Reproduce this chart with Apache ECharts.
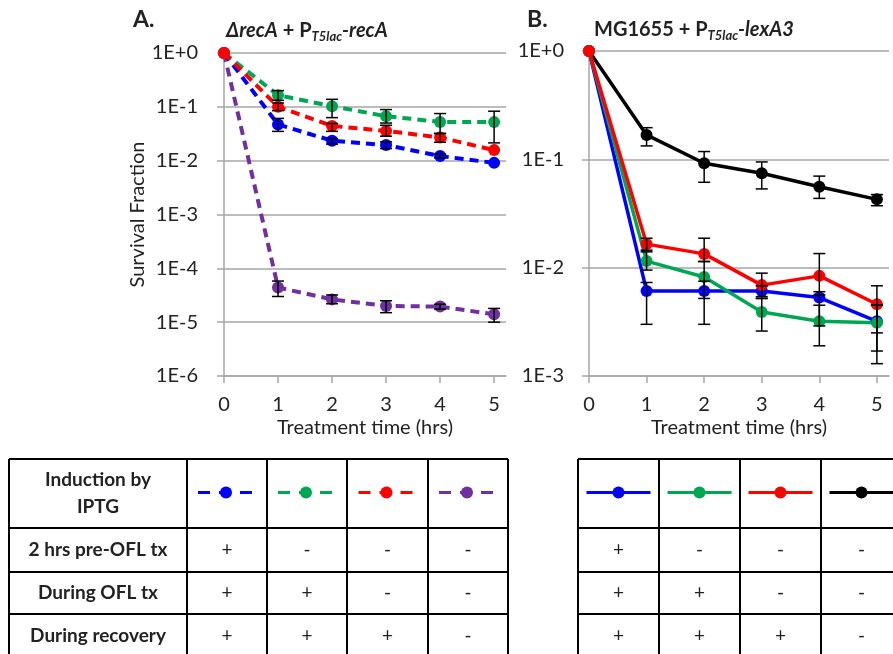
<!DOCTYPE html>
<html>
<head>
<meta charset="utf-8">
<script src="https://cdn.jsdelivr.net/npm/echarts@6/dist/echarts.min.js"></script>
<style>
html, body { margin: 0; padding: 0; background: #fff; }
#main { width: 893px; height: 654px; }
</style>
</head>
<body>
<div id="main"></div>
<script>
// time points (hrs)
var hours = [0, 1, 2, 3, 4, 5];

// panel A: ΔrecA + PT5lac-recA (dashed lines)
var aBlue     = [1, 0.047, 0.0235, 0.0195, 0.0122, 0.0091];
var aBlueLo   = [null, 0.035, 0.0203, 0.0168, 0.0112, null];
var aBlueHi   = [null, 0.061, 0.0258, 0.0223, 0.0133, null];
var aGreen    = [1, 0.165, 0.103, 0.067, 0.0525, 0.052];
var aGreenLo  = [null, 0.132, 0.063, 0.050, 0.032, 0.0214];
var aGreenHi  = [null, 0.200, 0.138, 0.089, 0.075, 0.083];
var aRed      = [1, 0.100, 0.0442, 0.0357, 0.027, 0.0157];
var aRedLo    = [null, 0.085, 0.035, 0.0285, 0.022, null];
var aRedHi    = [null, 0.118, 0.049, 0.0455, 0.032, null];
var aPurple   = [1, 4.4e-5, 2.65e-5, 2.0e-5, 1.95e-5, 1.4e-5];
var aPurpleLo = [null, 3.0e-5, 2.2e-5, 1.5e-5, 1.75e-5, 1.0e-5];
var aPurpleHi = [null, 5.8e-5, 3.2e-5, 2.5e-5, 2.15e-5, 1.8e-5];

// panel B: MG1655 + PT5lac-lexA3 (solid lines)
var bBlue     = [1, 0.0061, 0.0061, 0.0061, 0.0053, 0.0032];
var bBlueLo   = [null, 0.0030, 0.0030, 0.0054, 0.0029, 0.0017];
var bBlueHi   = [null, 0.0073, 0.0075, 0.0068, 0.0060, 0.0045];
var bGreen    = [1, 0.0115, 0.0082, 0.0039, 0.0032, 0.0031];
var bGreenLo  = [null, 0.0095, 0.0052, 0.0026, 0.0019, 0.0013];
var bGreenHi  = [null, 0.0140, 0.0114, 0.0052, 0.0045, 0.0045];
var bRed      = [1, 0.0165, 0.0134, 0.0069, 0.0084, 0.0046];
var bRedLo    = [null, 0.0145, 0.0114, 0.0052, 0.0056, 0.0025];
var bRedHi    = [null, 0.0187, 0.0187, 0.0089, 0.0135, 0.0068];
var bBlack    = [1, 0.168, 0.092, 0.0743, 0.0558, 0.0427];
var bBlackLo  = [null, 0.133, 0.0614, 0.0533, 0.0436, 0.0373];
var bBlackHi  = [null, 0.196, 0.118, 0.0946, 0.070, 0.0473];

// table contents
var rowLabels = ['2 hrs pre-OFL tx', 'During OFL tx', 'During recovery'];
var tableA = [['+', '-', '-', '-'], ['+', '+', '-', '-'], ['+', '+', '+', '-']];
var tableB = [['+', '-', '-', '-'], ['+', '+', '-', '-'], ['+', '+', '+', '-']];

var BLUE = '#0000ff', GREEN = '#00a651', RED = '#ff0000', PURPLE = '#7030a0', BLACK = '#000000';
var FONT = 'Lato';
var TXT = '#222';
var GRID = '#a6a6a6';

var chart = echarts.init(document.getElementById('main'), null, { renderer: 'canvas' });

function pairs(vals) {
    return hours.map(function (h, i) { return [h, vals[i]]; });
}
function errPairs(lo, hi) {
    var out = [];
    hours.forEach(function (h, i) {
        if (lo[i] != null) out.push([h, lo[i], hi[i]]);
    });
    return out;
}

function errItem(params, api) {
    var x = api.value(0);
    var top = api.coord([x, api.value(2)]);
    var bot = api.coord([x, api.value(1)]);
    var w = 6;
    var st = { stroke: '#000', lineWidth: 1.5 };
    return {
        type: 'group',
        children: [
            { type: 'line', shape: { x1: top[0], y1: top[1], x2: bot[0], y2: bot[1] }, style: st },
            { type: 'line', shape: { x1: top[0] - w, y1: top[1], x2: top[0] + w, y2: top[1] }, style: st },
            { type: 'line', shape: { x1: bot[0] - w, y1: bot[1], x2: bot[0] + w, y2: bot[1] }, style: st }
        ]
    };
}

function lineSeries(idx, vals, color, dashed) {
    return {
        type: 'line',
        xAxisIndex: idx, yAxisIndex: idx,
        data: pairs(vals),
        symbol: 'circle', symbolSize: 12,
        itemStyle: { color: color },
        lineStyle: { color: color, width: dashed ? 4 : 3.5, type: dashed ? [9, 6] : 'solid' },
        z: 3
    };
}
function errSeries(idx, lo, hi) {
    return {
        type: 'custom',
        xAxisIndex: idx, yAxisIndex: idx,
        data: errPairs(lo, hi),
        encode: { x: 0, y: [1, 2] },
        renderItem: errItem,
        z: 4
    };
}

function expLabel(v) {
    var e = Math.round(Math.log(v) / Math.LN10);
    return '1E' + (e >= 0 ? '+' : '') + e;
}

function xAxisFor(idx, max) {
    return {
        type: 'value', gridIndex: idx, min: 0, max: max,
        name: 'Treatment time (hrs)', nameLocation: 'middle', nameGap: 42,
        nameTextStyle: { fontFamily: FONT, fontSize: 20, color: TXT },
        axisLine: { show: true, lineStyle: { color: GRID, width: 1.5 } },
        axisTick: { show: true, length: 7, customValues: hours, lineStyle: { color: GRID, width: 1.5 } },
        axisLabel: { customValues: hours, fontFamily: FONT, fontSize: 20, color: TXT, margin: 19 },
        splitLine: { show: false }
    };
}
function yAxisFor(idx, min, name, margin) {
    return {
        type: 'log', logBase: 10, gridIndex: idx, min: min, max: 1, interval: 1,
        name: name, nameLocation: 'middle', nameGap: 62,
        nameTextStyle: { fontFamily: FONT, fontSize: 20, color: TXT },
        axisLine: { show: true, lineStyle: { color: GRID, width: 1.5 } },
        axisTick: { show: true, length: 7, lineStyle: { color: GRID, width: 1.5 } },
        axisLabel: { fontFamily: FONT, fontSize: 20, color: TXT, margin: margin, formatter: expLabel },
        splitLine: { show: true, lineStyle: { color: GRID, width: 1.5 } },
        minorTick: { show: false }
    };
}

// ---- tables drawn with graphic elements ----
var rowEdges = [459, 528, 572, 614, 658];
var colEdgesA = [9, 187, 267, 347, 428, 508];
var colEdgesB = [578, 659, 740, 821, 902];

function tableGraphics(cols, marks, swatches, dashed, withLabels) {
    var els = [];
    var ls = { stroke: '#000', lineWidth: 2 };
    cols.forEach(function (x) {
        els.push({ type: 'line', shape: { x1: x, y1: rowEdges[0], x2: x, y2: rowEdges[rowEdges.length - 1] }, style: ls });
    });
    rowEdges.forEach(function (y) {
        els.push({ type: 'line', shape: { x1: cols[0], y1: y, x2: cols[cols.length - 1], y2: y }, style: ls });
    });
    var first = withLabels ? 1 : 0;
    if (withLabels) {
        var cx0 = (cols[0] + cols[1]) / 2;
        els.push({ type: 'text', x: cx0, y: (rowEdges[0] + rowEdges[1]) / 2,
            style: { text: 'Induction by\nIPTG', fontFamily: FONT, fontSize: 19, fontWeight: 'bold', fill: TXT,
                align: 'center', verticalAlign: 'middle', lineHeight: 27 } });
        rowLabels.forEach(function (lab, r) {
            els.push({ type: 'text', x: cx0, y: (rowEdges[r + 1] + rowEdges[r + 2]) / 2,
                style: { text: lab, fontFamily: FONT, fontSize: 19, fontWeight: 'bold', fill: TXT,
                    align: 'center', verticalAlign: 'middle' } });
        });
    }
    swatches.forEach(function (color, c) {
        var cx = (cols[first + c] + cols[first + c + 1]) / 2;
        var cy = (rowEdges[0] + rowEdges[1]) / 2 - 1;
        if (dashed) {
            els.push({ type: 'line', shape: { x1: cx - 29, y1: cy, x2: cx + 27, y2: cy },
                style: { stroke: color, lineWidth: 3, lineDash: [12, 9] } });
            els.push({ type: 'circle', shape: { cx: cx - 1, cy: cy, r: 6 }, style: { fill: color } });
        } else {
            els.push({ type: 'line', shape: { x1: cx - 32, y1: cy, x2: cx + 32, y2: cy },
                style: { stroke: color, lineWidth: 3 } });
            els.push({ type: 'circle', shape: { cx: cx, cy: cy, r: 6 }, style: { fill: color } });
        }
        marks.forEach(function (row, r) {
            els.push({ type: 'text', x: cx, y: (rowEdges[r + 1] + rowEdges[r + 2]) / 2,
                style: { text: row[c], fontFamily: FONT, fontSize: 19, fill: TXT, align: 'center', verticalAlign: 'middle' } });
        });
    });
    return els;
}

var titleRich = {
    b: { fontFamily: FONT, fontSize: 20, fontWeight: 'bold', fill: TXT, lineHeight: 24, verticalAlign: 'middle' },
    i: { fontFamily: FONT, fontSize: 20, fontWeight: 'bold', fontStyle: 'italic', fill: TXT, lineHeight: 24, verticalAlign: 'middle' },
    s: { fontFamily: FONT, fontSize: 13, fontWeight: 'bold', fontStyle: 'italic', fill: TXT, lineHeight: 13, verticalAlign: 'bottom' }
};

var graphics = [
    { type: 'text', x: 133, y: 20, style: { text: 'A.', fontFamily: FONT, fontSize: 23, fontWeight: 'bold', fill: TXT, verticalAlign: 'middle' } },
    { type: 'text', x: 527, y: 20, style: { text: 'B.', fontFamily: FONT, fontSize: 23, fontWeight: 'bold', fill: TXT, verticalAlign: 'middle' } },
    { type: 'text', x: 226, y: 31, style: { text: '{i|ΔrecA}{b| + P}{s|T5lac}{i|-recA}', rich: titleRich, verticalAlign: 'middle' } },
    { type: 'text', x: 594, y: 30, style: { text: '{b|MG1655 + P}{s|T5lac}{i|-lexA3}', rich: titleRich, verticalAlign: 'middle' } }
].concat(
    tableGraphics(colEdgesA, tableA, [BLUE, GREEN, RED, PURPLE], true, true),
    tableGraphics(colEdgesB, tableB, [BLUE, GREEN, RED, BLACK], false, false)
);

var option = {
    backgroundColor: '#fff',
    animation: false,
    grid: [
        { left: 224, top: 53, width: 282, height: 323 },
        { left: 589, top: 51, width: 300, height: 325 }
    ],
    xAxis: [xAxisFor(0, 5.22), xAxisFor(1, 5.21)],
    yAxis: [yAxisFor(0, 1e-6, 'Survival Fraction', 26), yAxisFor(1, 1e-3, '', 25)],
    series: [
        lineSeries(0, aPurple, PURPLE, true),
        lineSeries(0, aBlue, BLUE, true),
        lineSeries(0, aGreen, GREEN, true),
        lineSeries(0, aRed, RED, true),
        errSeries(0, aBlueLo, aBlueHi),
        errSeries(0, aGreenLo, aGreenHi),
        errSeries(0, aRedLo, aRedHi),
        errSeries(0, aPurpleLo, aPurpleHi),
        lineSeries(1, bBlack, BLACK, false),
        lineSeries(1, bBlue, BLUE, false),
        lineSeries(1, bGreen, GREEN, false),
        lineSeries(1, bRed, RED, false),
        errSeries(1, bBlackLo, bBlackHi),
        errSeries(1, bBlueLo, bBlueHi),
        errSeries(1, bGreenLo, bGreenHi),
        errSeries(1, bRedLo, bRedHi)
    ],
    graphic: { elements: graphics }
};

chart.setOption(option);
</script>
</body>
</html>
